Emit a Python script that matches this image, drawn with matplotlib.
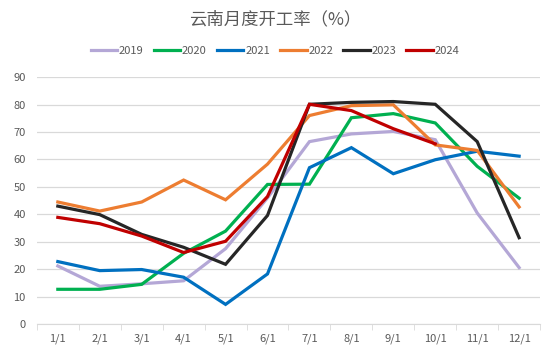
import numpy as np
import matplotlib.pyplot as plt

plt.rcParams['font.family'] = ['Noto Sans CJK SC', 'DejaVu Sans']

months = ["1/1", "2/1", "3/1", "4/1", "5/1", "6/1", "7/1", "8/1", "9/1", "10/1", "11/1", "12/1"]

y2019 = [21.2, 13.8, 14.7, 15.8, 27.5, 46.0, 66.5, 69.3, 70.2, 67.2, 40.5, 20.6]
y2020 = [12.7, 12.7, 14.5, 25.8, 33.9, 50.9, 51.0, 75.2, 76.7, 73.3, 57.5, 45.9]
y2021 = [22.8, 19.5, 19.9, 17.1, 7.2, 18.3, 57.0, 64.3, 54.8, 59.9, 63.0, 61.2]
y2022 = [44.5, 41.2, 44.5, 52.5, 45.3, 58.3, 76.0, 79.6, 79.9, 65.3, 63.3, 42.7]
y2023 = [43.0, 39.9, 32.7, 28.0, 21.8, 39.6, 80.1, 80.8, 81.1, 80.1, 66.5, 31.5]
y2024 = [38.9, 36.6, 32.1, 26.1, 30.2, 46.5, 80.1, 77.8, 71.2, 65.7]

series = [
    ("2019", y2019, "#B4A7D6"),
    ("2020", y2020, "#00B050"),
    ("2021", y2021, "#0070C0"),
    ("2022", y2022, "#ED7D31"),
    ("2023", y2023, "#262626"),
    ("2024", y2024, "#C00000"),
]

fig = plt.figure(figsize=(5.5, 3.57), dpi=100)
ax = fig.add_axes([0.067, 0.092, 0.915, 0.692])

x = np.arange(1, 13)
for name, vals, col in series:
    ax.plot(x[:len(vals)], vals, color=col, lw=2.3, label=name, solid_joinstyle='miter')

ax.set_xlim(0.5, 12.5)
ax.set_ylim(0, 90)
ax.set_yticks(range(0, 91, 10))
ax.set_xticks(x)
ax.set_xticklabels(months)
ax.set_xticks(np.arange(0.5, 13, 1), minor=True)
ax.tick_params(axis='x', which='major', length=0, pad=7)
ax.tick_params(axis='x', which='minor', length=4, color='#D9D9D9')
ax.tick_params(axis='y', length=0, pad=8)
ax.tick_params(labelsize=8, labelcolor='#595959')
ax.grid(axis='y', color='#D9D9D9', lw=0.9)
ax.set_axisbelow(True)
for s in ['top', 'right', 'left']:
    ax.spines[s].set_visible(False)
ax.spines['bottom'].set_color('#D9D9D9')

fig.text(0.5, 0.945, "云南月度开工率（%）", ha='center', va='center', fontsize=12.5, color='#595959')
fig.legend(loc='center', bbox_to_anchor=(0.5, 0.858), ncol=6, frameon=False, fontsize=8,
           handlelength=2.4, handletextpad=0.15, columnspacing=0.9, labelcolor='#595959')

fig.savefig("out.png", dpi=100)
